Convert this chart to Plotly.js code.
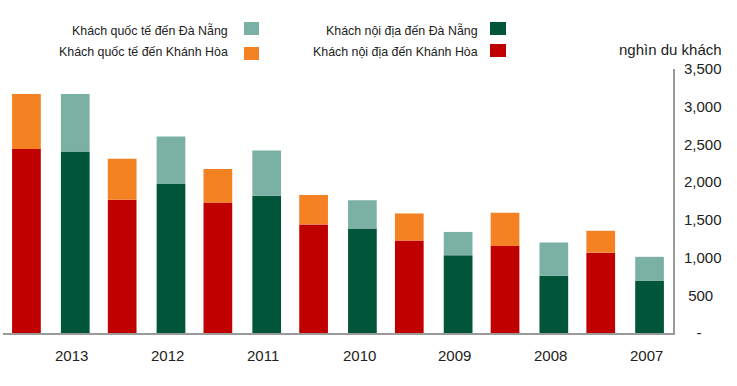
<!DOCTYPE html>
<html>
<head>
<meta charset="utf-8">
<script src="https://cdn.plot.ly/plotly-3.0.1.min.js"></script>
<style>html,body{margin:0;padding:0;background:#fff}#chart{width:737px;height:386px}</style>
</head>
<body>
<div id="chart"></div>
<script>
// Data (thousand visitors)
const years = ['2007','2008','2009','2010','2011','2012','2013'];
const dnDomestic = [690, 760, 1030, 1385, 1820, 1975, 2405];   // Khách nội địa đến Đà Nẵng
const dnIntl     = [320, 440, 310, 375, 600, 630, 765];        // Khách quốc tế đến Đà Nẵng
const khDomestic = [1065, 1155, 1225, 1440, 1730, 1765, 2440]; // Khách nội địa đến Khánh Hòa
const khIntl     = [290, 440, 360, 390, 445, 545, 730];        // Khách quốc tế đến Khánh Hòa
const yTickVals = [0, 500, 1000, 1500, 2000, 2500, 3000, 3500];
const yTickText = ['\u00a0\u00a0\u00a0-', '\u00a0500', '1,000', '1,500', '2,000', '2,500', '3,000', '3,500'];
const names = {
  dnD: 'Khách nội địa đến Đà Nẵng',
  khD: 'Khách nội địa đến Khánh Hòa',
  dnI: 'Khách quốc tế đến Đà Nẵng',
  khI: 'Khách quốc tế đến Khánh Hòa'
};
const colors = {dnD:'#00553A', dnI:'#7BB1A5', khD:'#C00000', khI:'#F48122'};

const W = 0.3, offDN = -0.405, offKH = 0.105;
const traces = [
  {type:'bar', name:names.dnD, x:years, y:dnDomestic, base:0, width:W, offset:offDN, marker:{color:colors.dnD}},
  {type:'bar', name:names.dnI, x:years, y:dnIntl, base:dnDomestic, width:W, offset:offDN, marker:{color:colors.dnI}},
  {type:'bar', name:names.khD, x:years, y:khDomestic, base:0, width:W, offset:offKH, marker:{color:colors.khD}},
  {type:'bar', name:names.khI, x:years, y:khIntl, base:khDomestic, width:W, offset:offKH, marker:{color:colors.khI}}
].map(t => Object.assign(t, {showlegend:false, hoverinfo:'x+y+name'}));

// pixel helpers for legend placement (plot area: x 3..673, y 69..333)
const L = 3, R = 64, T = 69, B = 53, PW = 737 - L - R, PH = 386 - T - B;
const px = v => (v - L) / PW;
const py = v => (386 - B - v) / PH;

const fam = 'Liberation Sans, Arial, sans-serif';
const legendFont = {family:fam, size:12.4, color:'#222'};
const tickFont = {family:fam, size:15, color:'#222'};
const legendItems = [
  {key:'dnI', sx0:244, sx1:259, sy0:22, sy1:35, tx:230, ty:30},
  {key:'khI', sx0:244, sx1:259, sy0:47, sy1:60, tx:230, ty:52},
  {key:'dnD', sx0:490, sx1:506, sy0:22, sy1:35, tx:480, ty:30},
  {key:'khD', sx0:490, sx1:506, sy0:44, sy1:57, tx:480, ty:52}
];
const shapes = legendItems.map(it => ({
  type:'rect', xref:'paper', yref:'paper',
  x0:px(it.sx0), x1:px(it.sx1), y0:py(it.sy1), y1:py(it.sy0),
  fillcolor:colors[it.key], line:{width:0}
}));
const annotations = legendItems.map(it => ({
  text:names[it.key], xref:'paper', yref:'paper', x:px(it.tx), y:py(it.ty),
  xanchor:'right', yanchor:'middle', showarrow:false, font:legendFont
}));
annotations.push({text:'nghìn du khách', xref:'paper', yref:'paper', x:px(724), y:py(50),
  xanchor:'right', yanchor:'middle', showarrow:false, font:tickFont});
// year labels (placed through the category axis by index, shifted like the reference)
years.forEach((yr, i) => annotations.push({
  text:yr, x:i, xref:'x', y:0, yref:'y', yanchor:'middle', xanchor:'center',
  xshift:21, yshift:-22, showarrow:false, font:tickFont
}));

const layout = {
  width:737, height:386,
  margin:{l:L, r:R, t:T, b:B},
  paper_bgcolor:'#fff', plot_bgcolor:'#fff',
  barmode:'overlay',
  font:tickFont,
  xaxis:{type:'category', categoryorder:'array', categoryarray:years,
    range:[years.length - 0.5, -0.5], autorange:false,
    showline:true, linecolor:'#9a9a9a', linewidth:2, ticks:'', showgrid:false,
    showticklabels:false},
  yaxis:{side:'right', range:[0,3500], tickvals:yTickVals, ticktext:yTickText,
    showline:true, linecolor:'#9a9a9a', linewidth:2, ticks:'', showgrid:false, zeroline:false,
    tickfont:tickFont, ticklabelstandoff:6},
  shapes:shapes,
  annotations:annotations
};
Plotly.newPlot('chart', traces, layout, {displayModeBar:false, staticPlot:true});
</script>
</body>
</html>
